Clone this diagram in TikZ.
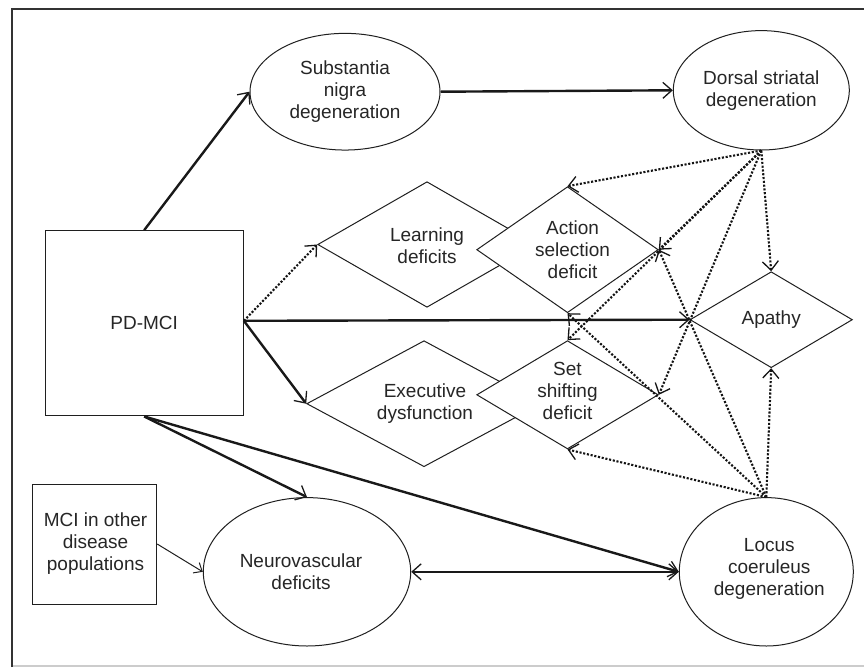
\documentclass[tikz,border=0pt]{standalone}
\usepackage{fontspec}
\setmainfont{Liberation Sans}
\usetikzlibrary{shapes.geometric,arrows.meta}
\begin{document}
\begin{tikzpicture}[x=1pt,y=-1pt,
  font=\fontsize{19}{22}\selectfont,
  >={Straight Barb[length=9pt,width=16pt,line width=1.3pt]},
  ln/.style={draw=black!88, line width=1pt},
  ell/.style={ln, ellipse, inner sep=0pt, fill=white},
  dia/.style={ln, diamond, inner sep=0pt, fill=white},
  boxnode/.style={ln, rectangle, inner sep=0pt, fill=white},
  txt/.style={align=center, text=black!85, inner sep=0pt},
  solidarr/.style={draw=black!90, line width=2.4pt, ->},
  dblarr/.style={draw=black!90, line width=2.4pt, <->},
  thinarr/.style={draw=black!88, line width=1pt, -{Straight Barb[length=7pt,width=12pt,line width=1pt]}},
  dotarr/.style={draw=black!92, line width=2.1pt, dash pattern=on 2.1pt off 1.7pt, ->},
]
\useasboundingbox (0,0) rectangle (864,667);
% frame
\draw[draw=black!20, line width=1.2pt] (11.7,666) -- (864,666);
\draw[draw=black!80, line width=1.7pt] (11.7,667) -- (11.7,9.3) -- (864,9.3);

% nodes
\node[ell, minimum width=190pt, minimum height=116.7pt,
  label={[txt]center:Substantia\\nigra\\degeneration}] (sn) at (345,91.7) {};
\node[ell, minimum width=176pt, minimum height=119.4pt,
  label={[txt]center:Dorsal striatal\\degeneration}] (ds) at (761.3,90.3) {};
\node[boxnode, minimum width=198.3pt, minimum height=185.3pt,
  label={[txt]center:PD-MCI}] (pd) at (144.2,323.3) {};
\node[boxnode, minimum width=124.4pt, minimum height=120pt,
  label={[txt,xshift=1pt]center:MCI in other\\disease\\populations}] (mci) at (94.5,544) {};
\node[ell, minimum width=207.4pt, minimum height=148.4pt,
  label={[txt,xshift=-6pt]center:Neurovascular\\deficits}] (nv) at (307,571.8) {};
\node[ell, minimum width=174pt, minimum height=148.4pt,
  label={[txt,xshift=3pt,yshift=3pt]center:Locus\\coeruleus\\degeneration}] (lc) at (766.3,571.8) {};

\node[dia, minimum width=218.6pt, minimum height=125.6pt,
  label={[txt,yshift=-1pt]center:Learning\\deficits}] (lrn) at (427,244.5) {};
\node[dia, minimum width=181.6pt, minimum height=126pt,
  label={[txt,xshift=5pt]center:Action\\selection\\deficit}] (act) at (567.5,249.7) {};
\node[dia, minimum width=234.6pt, minimum height=126pt,
  label={[txt,xshift=1pt]center:Executive\\dysfunction}] (exe) at (424,403.7) {};
\node[dia, minimum width=181.6pt, minimum height=108.3pt,
  label={[txt,yshift=4pt]center:Set\\shifting\\deficit}] (set) at (567.5,394.8) {};
\node[dia, minimum width=162.4pt, minimum height=96pt,
  label={[txt]center:Apathy}] (apa) at (771.2,319.7) {};

\coordinate (pde) at ([yshift=2.5pt]pd.east);

% solid connectors
\draw[solidarr] (pd.north) -- (sn.west);
\draw[solidarr] (sn.east) -- (ds.west);
\draw[solidarr] (pde) -- (apa.west);
\draw[solidarr] (pde) -- (exe.west);
\draw[solidarr] (pd.south) -- (nv.north);
\draw[solidarr] (pd.south) -- (lc.west);
\draw[dblarr] (nv.east) -- (lc.west);
\draw[thinarr] (mci.east) -- (nv.west);

% dotted connectors
\draw[dotarr] (pde) -- (lrn.west);
\draw[dotarr] (ds.south) -- (act.north);
\draw[dotarr] (ds.south) -- (act.east);
\draw[dotarr] (ds.south) -- (set.north);
\draw[dotarr] (ds.south) -- (set.east);
\draw[dotarr] (ds.south) -- (apa.north);
\draw[dotarr] (lc.north) -- (set.south);
\draw[dotarr] (lc.north) -- (act.south);
\draw[dotarr] (lc.north) -- (act.east);
\draw[dotarr] (lc.north) -- (apa.south);
\end{tikzpicture}
\end{document}
